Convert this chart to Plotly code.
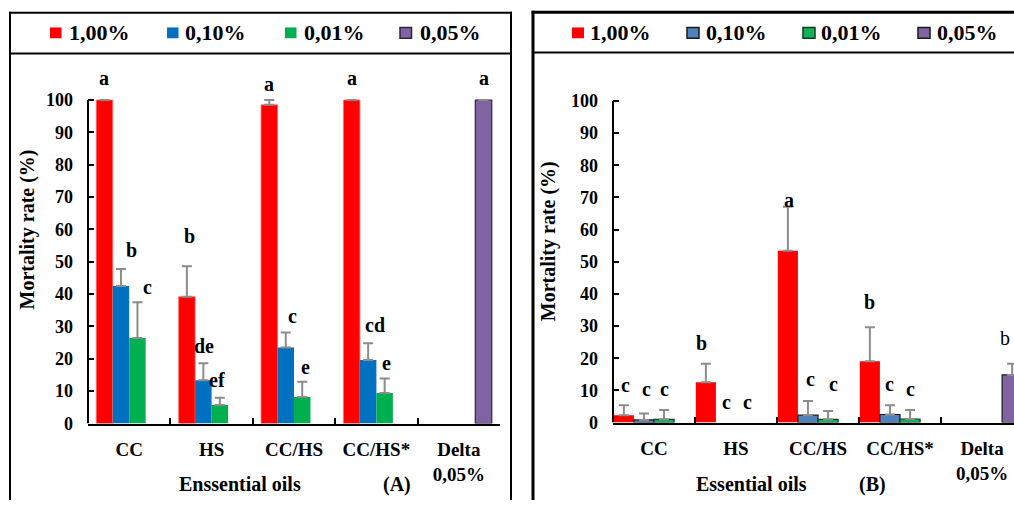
import plotly.graph_objects as go

W, H = 1014, 510

# ---------------- data ----------------
categories = ["CC", "HS", "CC/HS", "CC/HS*", "Delta"]
tick_labels = ["CC", "HS", "CC/HS", "CC/HS*", "Delta<br>0,05%"]
series_names = ["1,00%", "0,10%", "0,01%", "0,05%"]
y_ticks = [0, 10, 20, 30, 40, 50, 60, 70, 80, 90, 100]

# Panel A
a_red = [100, 39.2, 98.5, 100, None]
a_red_err = [0, 9.4, 1.5, 0, None]
a_blue = [42.5, 13.4, 23.5, 19.6, None]
a_blue_err = [5.3, 5.2, 4.6, 5.2, None]
a_green = [26.4, 5.7, 8.2, 9.4, None]
a_green_err = [11.1, 2.3, 4.7, 4.5, None]
a_purple = [None, None, None, None, 100]
a_purple_err = [None, None, None, None, 0]
a_letters = [["a", "b", "a", "a", None],
             ["b", "de", "c", "cd", None],
             ["c", "ef", "e", "e", None],
             [None, None, None, None, "a"]]
a_letter_y = [[106.7, 57.9, 104.8, 106.7, None],
              [53.6, 23.9, 33.3, 30.3, None],
              [42.1, 13.6, 17.6, 18.8, None],
              [None, None, None, None, 106.7]]

# Panel B
b_red = [2.3, 12.5, 53.4, 19.1, None]
b_red_err = [3.1, 5.8, 13.7, 10.5, None]
b_blue = [0.8, None, 2.3, 2.5, None]
b_blue_err = [2.0, None, 4.4, 2.9, None]
b_green = [1.0, None, 1.0, 1.1, None]
b_green_err = [2.9, None, 2.6, 2.8, None]
b_purple = [None, None, None, None, 14.8]
b_purple_err = [None, None, None, None, 3.5]
b_letters = [["c", "b", "a", "b", None],
             ["c", "c", "c", "c", None],
             ["c", "c", "c", "c", None],
             [None, None, None, None, "b"]]
b_letter_y = [[11.6, 24.7, 69.2, 37.5, None],
              [10.4, 6.4, 13.4, 11.9, None],
              [10.4, 6.4, 11.9, 10.4, None],
              [None, None, None, None, 26.2]]

# ---------------- layout helpers ----------------
FONT = "Liberation Serif, Times New Roman, Tinos, DejaVu Serif, serif"
YMAX = 112


def pxx(x):
    return x / W


def pxy(y):
    return 1 - y / H


panels = [
    dict(xa="x", ya="y", xname="xaxis", yname="yaxis",
         vals=[a_red, a_blue, a_green, a_purple],
         errs=[a_red_err, a_blue_err, a_green_err, a_purple_err],
         letters=a_letters, letter_y=a_letter_y,
         dx=[[0, 3, 0, 0, 0], [11, 1, 7, 7, 0], [10, -3, 3, 2, 0], [0, 0, 0, 0, 0]],
         bold=[[True] * 5] * 4,
         colors=["#FF0000", "#0070C0", "#00B050", "#8064A2"],
         lines=[("#FF7070", 0.8), ("#0070C0", 0), ("#00B050", 0), ("#2E2440", 1.2)],
         w=0.2, x0=88, x1=500, cat_w=82.4, y0=432, y100=102),
    dict(xa="x2", ya="y2", xname="xaxis2", yname="yaxis2",
         vals=[b_red, b_blue, b_green, b_purple],
         errs=[b_red_err, b_blue_err, b_green_err, b_purple_err],
         letters=b_letters, letter_y=b_letter_y,
         dx=[[2, -4, 1, 0, 0], [3, 1, 3, 0, 0], [0, 1, 5, 0, 0], [0, 0, 0, 0, -7]],
         bold=[[True] * 5, [True] * 5, [True] * 5, [True, True, True, True, False]],
         colors=["#FF0000", "#4F81BD", "#14B157", "#8064A2"],
         lines=[("#FF0000", 0), ("#1A1A1A", 1.2), ("#0E3D22", 1.2), ("#1A1A1A", 1.2)],
         w=0.245, x0=613, x1=1014, cat_w=82.0, y0=431, y100=103),
]

fig = go.Figure()
annotations = []
shapes = []

for p in panels:
    w = p["w"]
    for i in range(4):
        off = -2 * w + i * w
        lc, lw = p["lines"][i]
        fig.add_trace(go.Bar(
            x=categories, y=p["vals"][i], name=series_names[i],
            width=w, offset=off,
            marker=dict(color=p["colors"][i], line=dict(color=lc, width=lw)),
            error_y=dict(type="data", symmetric=False, array=p["errs"][i],
                         arrayminus=[0 if v is not None else None for v in p["errs"][i]],
                         color="#8C8C8C", thickness=2, width=5),
            xaxis=p["xa"], yaxis=p["ya"], showlegend=False, hoverinfo="skip",
        ))
        for j, letter in enumerate(p["letters"][i]):
            if letter is None:
                continue
            txt = f"<b>{letter}</b>" if p["bold"][i][j] else letter
            annotations.append(dict(
                x=j + off + w / 2, y=p["letter_y"][i][j], xref=p["xa"], yref=p["ya"],
                text=txt, showarrow=False, xshift=p["dx"][i][j],
                font=dict(family=FONT, size=20, color="black"),
                xanchor="center", yanchor="middle"))
    # y axis line only up to 100
    shapes.append(dict(type="line", xref=p["xa"] + " domain", yref=p["ya"],
                       x0=0, x1=0, y0=0, y1=100,
                       line=dict(color="black", width=2)))

# axes
for p in panels:
    unit = (p["y0"] - p["y100"]) / 100.0
    top_px = p["y0"] - YMAX * unit
    xr_max = -0.5 + (p["x1"] - p["x0"]) / p["cat_w"]
    fig.update_layout(**{
        p["xname"]: dict(
            domain=[pxx(p["x0"]), min(1.0, pxx(p["x1"]))],
            anchor=p["ya"], type="category",
            range=[-0.5, min(4.5, xr_max)],
            tickmode="array", tickvals=categories, ticktext=tick_labels,
            tickson="boundaries", ticks="inside", ticklen=6, tickwidth=2,
            tickcolor="black", showline=True, linecolor="black", linewidth=2,
            showgrid=False, zeroline=False, ticklabelstandoff=8,
            tickfont=dict(family=FONT, size=19, color="black", weight="bold"),
            fixedrange=True),
        p["yname"]: dict(
            domain=[pxy(p["y0"]), pxy(top_px)],
            anchor=p["xa"], range=[0, YMAX],
            tickmode="array", tickvals=y_ticks,
            ticks="inside", ticklen=6, tickwidth=2, tickcolor="black",
            showline=False, showgrid=False, zeroline=False,
            ticklabelstandoff=14,
            tickfont=dict(family=FONT, size=18, color="black", weight="bold"),
            fixedrange=True),
    })


def hline(x0, x1, y, width):
    shapes.append(dict(type="line", xref="paper", yref="paper",
                       x0=pxx(x0), x1=pxx(x1), y0=pxy(y), y1=pxy(y),
                       line=dict(color="black", width=width), layer="above"))


def vline(x, y_top, width):
    shapes.append(dict(type="line", xref="paper", yref="paper",
                       x0=pxx(x), x1=pxx(x), y0=0, y1=pxy(y_top),
                       line=dict(color="black", width=width), layer="above"))


# panel frames (open at the bottom / right edge) and legend separators
hline(9, 512, 13, 2)
vline(10, 12, 2)
vline(511, 12, 2)
hline(10, 511, 54.5, 2)
hline(531.5, 1014, 12.5, 3)
vline(533, 11, 3)
hline(533, 1014, 53.5, 2)

# legends (manual)
legend_specs = [
    dict(sq_x=[50, 167, 285, 400], txt_x=[67, 183, 302, 418], sq_w=11.5,
         colors=panels[0]["colors"],
         borders=[None, None, None, "#2E2440"]),
    dict(sq_x=[572, 687, 803, 918], txt_x=[588, 704, 819, 935], sq_w=12,
         colors=panels[1]["colors"],
         borders=[None, "#1A1A1A", "#0E3D22", "#1A1A1A"]),
]
for spec in legend_specs:
    for k in range(4):
        b = spec["borders"][k]
        shapes.append(dict(type="rect", xref="paper", yref="paper",
                           x0=pxx(spec["sq_x"][k]), x1=pxx(spec["sq_x"][k] + spec["sq_w"]),
                           y0=pxy(39), y1=pxy(28),
                           fillcolor=spec["colors"][k],
                           line=dict(color=b if b else spec["colors"][k], width=1.5 if b else 0)))
        annotations.append(dict(x=pxx(spec["txt_x"][k]), y=pxy(33.5), xref="paper", yref="paper",
                                text=f"<b>{series_names[k]}</b>", showarrow=False,
                                xanchor="left", yanchor="middle",
                                font=dict(family=FONT, size=22, color="black")))

# axis titles
title_font = dict(family=FONT, size=20, color="black")
for (tx, ty, txt, ang) in [(27, 234, "Mortality rate (%)", -90),
                           (548, 246, "Mortality rate (%)", -90),
                           (240, 494, "Enssential oils", 0),
                           (397, 494, "(A)", 0),
                           (751, 494, "Essential oils", 0),
                           (872, 494, "(B)", 0)]:
    annotations.append(dict(x=pxx(tx), y=pxy(ty), xref="paper", yref="paper",
                            text=f"<b>{txt}</b>", textangle=ang, showarrow=False,
                            xanchor="center", yanchor="middle", font=title_font))

fig.update_layout(
    width=W, height=H,
    margin=dict(l=0, r=0, t=0, b=0),
    paper_bgcolor="white", plot_bgcolor="white",
    barmode="overlay",
    shapes=shapes, annotations=annotations,
    font=dict(family=FONT, color="black"),
)

# remove the default 8px page margin so the figure fills the window exactly
fig.write_html("out.html",
               config={"displayModeBar": False, "staticPlot": True},
               post_script="document.body.style.margin='0';"
                           "document.body.style.overflow='hidden';")
